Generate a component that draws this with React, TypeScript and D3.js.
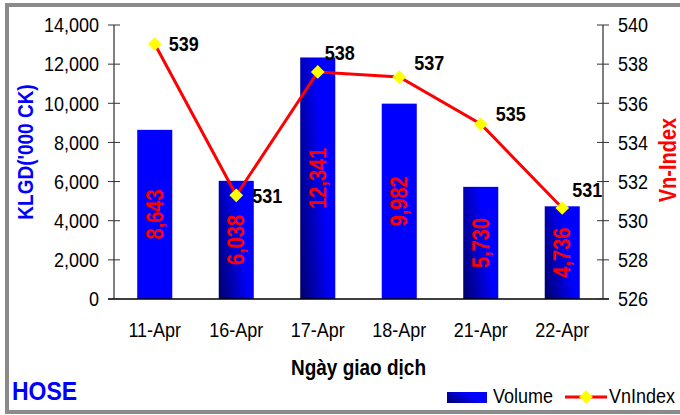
import * as d3 from 'd3'

const categories = ['11-Apr', '16-Apr', '17-Apr', '18-Apr', '21-Apr', '22-Apr']
const volume = [8643, 6038, 12341, 9982, 5730, 4736]
const vnIndex = [539.03, 531.3, 537.6, 537.34, 534.94, 530.65]
const vnLabels = ['539', '531', '538', '537', '535', '531']
const volTicks = [0, 2000, 4000, 6000, 8000, 10000, 12000, 14000]
const idxTicks = [526, 528, 530, 532, 534, 536, 538, 540]
const solidBars = ['11-Apr', '18-Apr']
// where each index label sits relative to its marker
const labelShift: [number, number][] = [[14, 0], [16, 0], [7, -19], [15, -14], [15, -10], [10, -18]]

const W = 680
const H = 415
const PLOT = { left: 114, right: 603, top: 25, bottom: 299 }
const FONT = 'Liberation Sans, Arial, sans-serif'
const SY = 1.15

function T({ x, y, rot = 0, size, bold = false, fill = '#000', anchor = 'middle', children }: any) {
  return (
    <text
      transform={`translate(${x},${y}) rotate(${rot}) scale(1,${SY})`}
      fontSize={size}
      fontWeight={bold ? 'bold' : 'normal'}
      fill={fill}
      textAnchor={anchor}
      dy="0.35em"
      fontFamily={FONT}
    >
      {children}
    </text>
  )
}

export default function App() {
  const x = d3.scaleBand().domain(categories).range([PLOT.left, PLOT.right]).paddingInner(0.57).paddingOuter(0.285)
  const yVol = d3.scaleLinear().domain([0, 14000]).range([PLOT.bottom, PLOT.top])
  const yIdx = d3.scaleLinear().domain([526, 540]).range([PLOT.bottom, PLOT.top])
  const fmt = d3.format(',')
  const cx = (c: string) => (x(c) as number) + x.bandwidth() / 2

  const line = d3.line<number>()
    .x((_, i) => cx(categories[i]))
    .y((v) => yIdx(v))

  const diamond = d3.symbol().type(d3.symbolDiamond2).size(120)()

  return (
    <svg width={W} height={H} style={{ position: 'absolute', left: 0, top: 0, background: '#fff' }}>
      <defs>
        <linearGradient id="barGrad" x1="0" y1="1" x2="1" y2="0.55">
          <stop offset="0" stopColor="#00006a" />
          <stop offset="0.75" stopColor="#0000ff" />
          <stop offset="1" stopColor="#0000ff" />
        </linearGradient>
      </defs>

      {/* frame */}
      <path d={`M${W + 5},5 H7 V412 H${W + 5}`} fill="none" stroke="#8a8a8a" strokeWidth={4} />

      {/* bars */}
      {categories.map((c, i) => (
        <rect
          key={c}
          x={x(c)}
          y={yVol(volume[i])}
          width={x.bandwidth()}
          height={PLOT.bottom - yVol(volume[i])}
          fill={solidBars.includes(c) ? '#0000ff' : 'url(#barGrad)'}
        />
      ))}

      {/* bar values */}
      {categories.map((c, i) => (
        <T key={c} x={cx(c)} y={(yVol(volume[i]) + PLOT.bottom) / 2} rot={-90} size={20} bold fill="#ff0000">
          {fmt(volume[i])}
        </T>
      ))}

      {/* axes */}
      <line x1={PLOT.left} x2={PLOT.left} y1={PLOT.top} y2={PLOT.bottom} stroke="#555" strokeWidth={1.5} />
      <line x1={PLOT.right} x2={PLOT.right} y1={PLOT.top} y2={PLOT.bottom} stroke="#555" strokeWidth={1.5} />
      <line x1={PLOT.left - 6} x2={PLOT.right + 6} y1={PLOT.bottom} y2={PLOT.bottom} stroke="#000" strokeWidth={1.5} />
      {volTicks.map((t) => (
        <g key={t}>
          <line x1={PLOT.left - 6} x2={PLOT.left + 6} y1={yVol(t)} y2={yVol(t)} stroke="#333" strokeWidth={1} />
          <T x={PLOT.left - 15} y={yVol(t)} size={18} anchor="end">{fmt(t)}</T>
        </g>
      ))}
      {idxTicks.map((t) => (
        <g key={t}>
          <line x1={PLOT.right - 6} x2={PLOT.right + 6} y1={yIdx(t)} y2={yIdx(t)} stroke="#333" strokeWidth={1} />
          <T x={PLOT.right + 15} y={yIdx(t)} size={18} anchor="start">{t}</T>
        </g>
      ))}
      {categories.map((c) => (
        <T key={c} x={cx(c)} y={330} size={18}>{c}</T>
      ))}

      {/* axis titles */}
      <T x={(PLOT.left + PLOT.right) / 2} y={367} size={19} bold>Ngày giao dịch</T>
      <T x={25} y={152} rot={-90} size={19} bold fill="#0000ff">KLGD('000 CK)</T>
      <T x={668} y={160} rot={-90} size={20} bold fill="#ff0000">Vn-Index</T>

      {/* index line */}
      <path d={line(vnIndex) ?? ''} fill="none" stroke="#ff0000" strokeWidth={3} />
      {vnIndex.map((v, i) => (
        <path key={i} d={diamond ?? ''} transform={`translate(${cx(categories[i])},${yIdx(v)})`} fill="#ffff00" />
      ))}
      {vnIndex.map((v, i) => (
        <T key={i} x={cx(categories[i]) + labelShift[i][0]} y={yIdx(v) + labelShift[i][1]} size={18} bold anchor="start">
          {vnLabels[i]}
        </T>
      ))}

      {/* HOSE tag */}
      <T x={12} y={391} size={23} bold fill="#0000ff" anchor="start">HOSE</T>

      {/* legend */}
      <rect x={447} y={392} width={40} height={11} fill="url(#barGrad)" />
      <T x={493} y={396} size={18} anchor="start">Volume</T>
      <line x1={565} x2={607} y1={397} y2={397} stroke="#ff0000" strokeWidth={3} />
      <path d={diamond ?? ''} transform="translate(586,397)" fill="#ffff00" />
      <T x={609} y={396} size={18} anchor="start">VnIndex</T>
    </svg>
  )
}
